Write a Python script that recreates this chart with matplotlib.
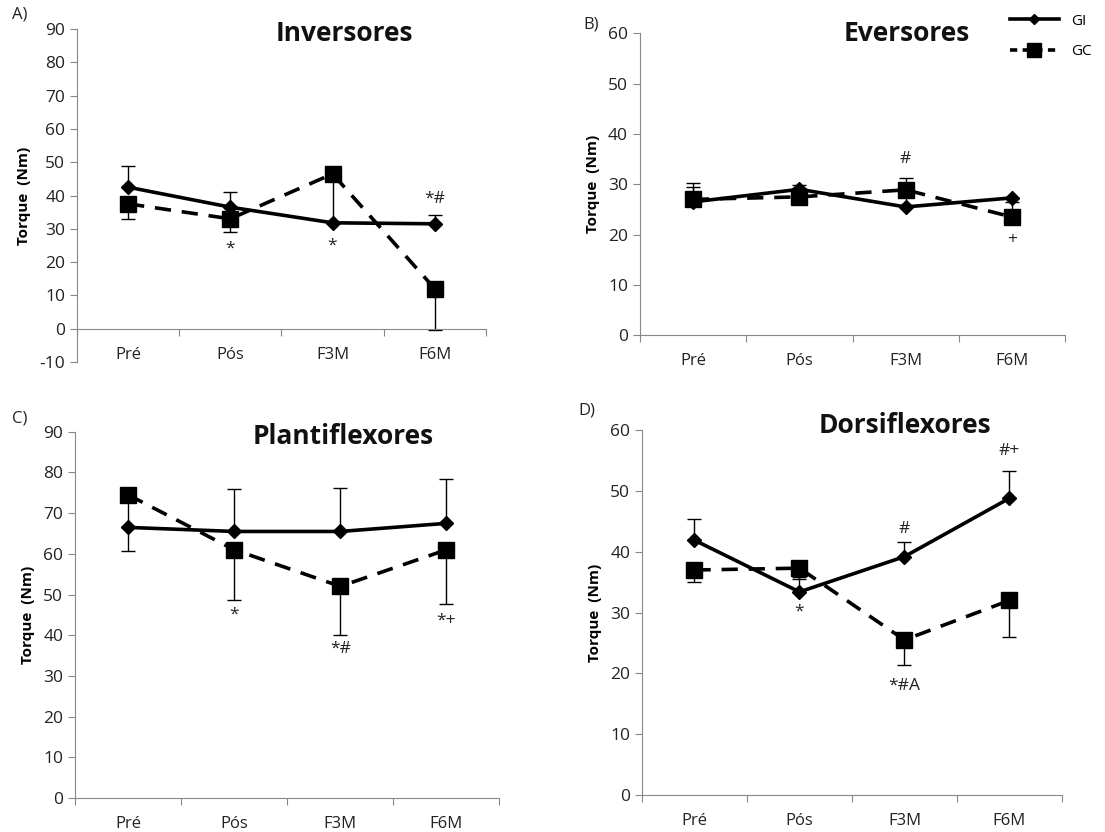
import matplotlib
matplotlib.use('Agg')
import matplotlib.pyplot as plt
from matplotlib.lines import Line2D

plt.rcParams['font.family'] = ['Open Sans', 'DejaVu Sans']
plt.rcParams['axes.unicode_minus'] = False

momentos = ['Pré', 'Pós', 'F3M', 'F6M']

# A) Inversores
inv_gi = [42.5, 36.5, 31.8, 31.5]
inv_gi_err = [6.3, 4.5, 0.0, 2.5]
inv_gc = [37.5, 33.0, 46.5, 12.0]
inv_gc_err = [4.5, 4.0, 14.5, 12.3]

# B) Eversores
eve_gi = [26.5, 29.0, 25.5, 27.3]
eve_gi_err = [3.0, 0.8, 2.0, 0.0]
eve_gc = [27.0, 27.5, 28.9, 23.5]
eve_gc_err = [3.3, 1.8, 2.3, 3.0]

# C) Plantiflexores
pla_gi = [66.5, 65.5, 65.5, 67.5]
pla_gi_err = [0.0, 10.5, 10.8, 10.8]
pla_gc = [74.5, 61.0, 52.0, 61.0]
pla_gc_err = [13.8, 12.3, 12.0, 13.3]

# D) Dorsiflexores
dor_gi = [41.9, 33.4, 39.2, 48.8]
dor_gi_err = [3.5, 2.5, 2.4, 4.5]
dor_gc = [37.0, 37.3, 25.5, 32.0]
dor_gc_err = [1.9, 1.8, 4.1, 6.0]

paineis = [
    dict(letra='A)', titulo='Inversores', gi=inv_gi, gi_err=inv_gi_err, gc=inv_gc, gc_err=inv_gc_err,
         gc_err_up=False, ylim=(-10, 90), ticks=range(-10, 91, 10),
         notas=[(1, 24, '*'), (2, 25, '*'), (3, 39, '*#')]),
    dict(letra='B)', titulo='Eversores', gi=eve_gi, gi_err=eve_gi_err, gc=eve_gc, gc_err=eve_gc_err,
         gc_err_up=True, ylim=(0, 60), ticks=range(0, 61, 10),
         notas=[(2, 35, '#'), (3, 19, '+')]),
    dict(letra='C)', titulo='Plantiflexores', gi=pla_gi, gi_err=pla_gi_err, gc=pla_gc, gc_err=pla_gc_err,
         gc_err_up=False, ylim=(0, 90), ticks=range(0, 91, 10),
         notas=[(1, 45, '*'), (2, 36.5, '*#'), (3, 43.5, '*+')]),
    dict(letra='D)', titulo='Dorsiflexores', gi=dor_gi, gi_err=dor_gi_err, gc=dor_gc, gc_err=dor_gc_err,
         gc_err_up=False, ylim=(0, 60), ticks=range(0, 61, 10),
         notas=[(1, 30.2, '*'), (2, 43.7, '#'), (2, 18.0, '*#A'), (3, 56.5, '#+')]),
]

# posicoes dos eixos e dos rotulos (fracao da figura)
posicoes = [
    [0.0697, 0.565, 0.370, 0.400],
    [0.579, 0.597, 0.385, 0.363],
    [0.068, 0.041, 0.384, 0.440],
    [0.581, 0.0445, 0.380, 0.4385],
]
letras_pos = [(0.011, 0.983), (0.528, 0.971), (0.011, 0.497), (0.523, 0.507)]
titulos_pos = [(0.655, 0.988), (0.628, 1.0), (0.632, 0.986), (0.626, 1.014)]

fig = plt.figure(figsize=(11.05, 8.32), dpi=100)
cinza = '#888888'

for p, pos, lp, tp in zip(paineis, posicoes, letras_pos, titulos_pos):
    ax = fig.add_axes(pos)
    x = range(len(momentos))
    ax.errorbar(x, p['gi'], yerr=[[0] * 4, p['gi_err']], fmt='none', ecolor='black',
                elinewidth=1, capsize=5, capthick=1, zorder=2)
    if p['gc_err_up']:
        gc_yerr = [[0] * 4, p['gc_err']]
    else:
        gc_yerr = [p['gc_err'], [0] * 4]
    ax.errorbar(x, p['gc'], yerr=gc_yerr, fmt='none', ecolor='black',
                elinewidth=1, capsize=5, capthick=1, zorder=2)
    ax.plot(x, p['gi'], color='black', lw=2.6, marker='D', ms=7, zorder=3)
    ax.plot(x, p['gc'], color='black', lw=2.6, ls=(0, (4.5, 3)), marker='s', ms=11, zorder=3)

    for i, yv, s in p['notas']:
        ax.text(i, yv, s, ha='center', va='center', fontsize=12.5, color='#222222')

    ax.set_xlim(-0.5, 3.5)
    ax.set_ylim(*p['ylim'])
    ax.set_yticks(list(p['ticks']))
    ax.set_xticks([-0.5, 0.5, 1.5, 2.5, 3.5], minor=False)
    ax.set_xticklabels([])
    ax.set_xticks(list(x), minor=True)
    ax.set_xticklabels(momentos, minor=True)
    ax.tick_params(axis='x', which='minor', length=0, pad=13, labelsize=12, labelcolor='#222222')
    ax.tick_params(axis='x', which='major', length=5, color=cinza, direction='out')
    ax.tick_params(axis='y', length=5, color=cinza, labelsize=12.5, labelcolor='#222222')
    for lado in ['top', 'right']:
        ax.spines[lado].set_visible(False)
    for lado in ['left', 'bottom']:
        ax.spines[lado].set_color(cinza)
    ax.spines['bottom'].set_position(('data', 0))
    ax.set_ylabel('Torque  (Nm)', fontsize=11, fontweight='bold', labelpad=6)

    ax.text(tp[0], tp[1], p['titulo'], transform=ax.transAxes, ha='center', va='center',
            fontsize=19, fontweight='bold', color='#111111')
    fig.text(lp[0], lp[1], p['letra'], fontsize=12, ha='left', va='center', color='#222222')

handles = [
    Line2D([], [], color='black', lw=2.6, marker='D', ms=5),
    Line2D([], [], color='black', lw=2.6, ls=(0, (2, 1.5)), marker='s', ms=10),
]
fig.legend(handles, ['GI', 'GC'], loc='upper right', bbox_to_anchor=(1.0, 1.0),
           frameon=False, fontsize=11, handlelength=3.2, labelspacing=1.0)

fig.savefig('out.png', dpi=100)
